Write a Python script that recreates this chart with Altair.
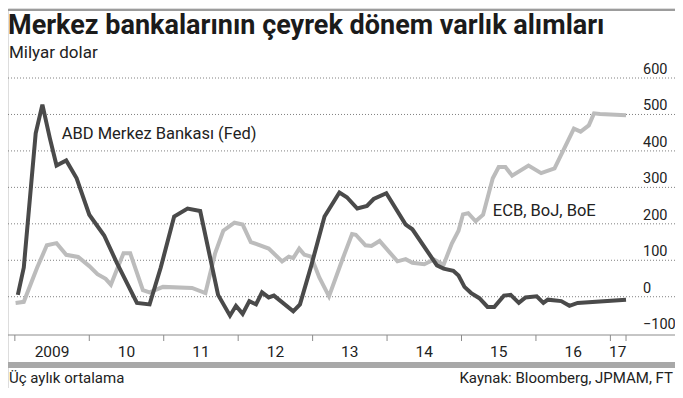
import altair as alt
import pandas as pd

# ---------------- data ----------------
fed_years = [2009.04, 2009.12, 2009.28, 2009.37, 2009.47, 2009.56, 2009.69, 2009.83,
             2010.00, 2010.20, 2010.37, 2010.64, 2010.81, 2010.96, 2011.14, 2011.32,
             2011.49, 2011.73, 2011.89, 2011.97, 2012.06, 2012.15, 2012.24, 2012.32,
             2012.41, 2012.48, 2012.74, 2012.83, 2012.98, 2013.16, 2013.36, 2013.46,
             2013.60, 2013.73, 2013.82, 2013.99, 2014.25, 2014.34, 2014.67, 2014.76,
             2014.89, 2014.96, 2015.04, 2015.13, 2015.24, 2015.35, 2015.44, 2015.57,
             2015.66, 2015.77, 2015.86, 2016.01, 2016.10, 2016.16, 2016.34, 2016.45,
             2016.56, 2017.21]
fed_values = [5, 80, 448, 527, 435, 360, 374, 325,
              225, 168, 93, -17, -21, 80, 220, 242,
              235, 5, -52, -25, -47, -12, -21, 12,
              -2, 3, -40, -21, 84, 220, 286, 273,
              242, 249, 268, 284, 198, 185, 86, 77,
              71, 58, 27, 10, -4, -28, -28, 3,
              5, -17, -2, 1, -17, -8, -12, -25,
              -17, -8]

ecb_years = [2009.01, 2009.12, 2009.30, 2009.43, 2009.56, 2009.69, 2009.85, 2010.00,
             2010.11, 2010.22, 2010.29, 2010.39, 2010.46, 2010.55, 2010.72, 2010.81,
             2010.99, 2011.38, 2011.56, 2011.69, 2011.80, 2011.95, 2012.06, 2012.17,
             2012.41, 2012.59, 2012.68, 2012.74, 2012.82, 2012.89, 2012.98, 2013.09,
             2013.22, 2013.40, 2013.53, 2013.58, 2013.71, 2013.79, 2013.90, 2014.14,
             2014.25, 2014.34, 2014.50, 2014.63, 2014.76, 2014.87, 2014.96, 2015.02,
             2015.09, 2015.19, 2015.29, 2015.42, 2015.50, 2015.59, 2015.68, 2015.90,
             2016.07, 2016.25, 2016.51, 2016.60, 2016.71, 2016.78, 2016.86, 2017.21]
ecb_values = [-17, -14, 80, 141, 147, 115, 109, 84,
              62, 49, 33, 84, 119, 119, 18, 12,
              27, 24, 10, 119, 181, 203, 198, 150,
              132, 97, 110, 106, 132, 115, 110, 53,
              1, 102, 172, 170, 141, 139, 153, 97,
              103, 93, 89, 102, 88, 146, 181, 226,
              229, 207, 225, 325, 356, 356, 332, 360,
              339, 352, 461, 453, 470, 503, 501, 498]

series_names = ["ABD Merkez Bankası (Fed)", "ECB, BoJ, BoE"]
label_pos = [[2009.63, 432], [2015.42, 221]]

year_ticks = [2009, 2010, 2011, 2012, 2013, 2014, 2015, 2016, 2017, 2017.21]
year_label_pos = [2009.5, 2010.5, 2011.5, 2012.5, 2013.5, 2014.5, 2015.5, 2016.5, 2017.1]
year_labels = ["2009", "10", "11", "12", "13", "14", "15", "16", "17"]
y_ticks = [-100, 0, 100, 200, 300, 400, 500, 600]
y_grid = [0, 100, 200, 300, 400, 500, 600]

title_text = "Merkez bankalarının çeyrek dönem varlık alımları"
subtitle_text = "Milyar dolar"
note_text = "Üç aylık ortalama"
source_text = "Kaynak: Bloomberg, JPMAM, FT"

# ---------------- layout (whole canvas is the view) ----------------
W, HT = 667, 380          # full svg size
PT, PB = 70, 327          # plot top / bottom in pixels
Y_DOMAIN = [-105, 600]
FONT = "Roboto"
TXT = "#222222"
X_DOMAIN = [2008.908, 2017.868]


def px_to_y(px):
    """Value on the y scale that lands on pixel row px (for decorations only)."""
    return Y_DOMAIN[0] + (PB - px) / (PB - PT) * (Y_DOMAIN[1] - Y_DOMAIN[0])


x_scale = alt.Scale(domain=X_DOMAIN, nice=False, zero=False)
y_scale = alt.Scale(domain=Y_DOMAIN, range=[PB, PT], nice=False, zero=False)
X = lambda f: alt.X(f, scale=x_scale, axis=None)
Y = lambda f: alt.Y(f, scale=y_scale, axis=None)

ecb_df = pd.DataFrame({"t": ecb_years, "v": ecb_values})
fed_df = pd.DataFrame({"t": fed_years, "v": fed_values})
one = pd.DataFrame({"k": [0]})
band_df = pd.DataFrame({"t": X_DOMAIN, "v": [px_to_y(PB + 30)] * 2})
top_df = pd.DataFrame({"t": X_DOMAIN, "v": [px_to_y(2)] * 2})

grid = alt.Chart(pd.DataFrame({"v": y_grid})).mark_rule(
    color="#808080", strokeWidth=1, strokeDash=[1, 2]).encode(
    y=Y("v:Q"), x=alt.value(0), x2=alt.value(W))

y_labels = alt.Chart(pd.DataFrame({"v": y_ticks})).mark_text(
    align="left", baseline="bottom", dy=-1, font=FONT, fontSize=14.5, color=TXT).encode(
    y=Y("v:Q"), x=alt.value(635), text=alt.Text("v:Q"))

ecb_line = alt.Chart(ecb_df).mark_line(color="#bcbcbc", strokeWidth=4).encode(
    x=X("t:Q"), y=Y("v:Q"), order="t:Q")
fed_line = alt.Chart(fed_df).mark_line(color="#4a4a4a", strokeWidth=4).encode(
    x=X("t:Q"), y=Y("v:Q"), order="t:Q")

ann_df = pd.DataFrame({"t": [p[0] for p in label_pos], "v": [p[1] for p in label_pos],
                       "txt": series_names})
annotations = alt.Chart(ann_df).mark_text(
    align="left", baseline="alphabetic", font=FONT, fontSize=16.5, color=TXT).encode(
    x=X("t:Q"), y=Y("v:Q"), text="txt:N")

x_domain = alt.Chart(one).mark_rule(color="#8c8c8c", strokeWidth=1).encode(
    x=alt.value(0), x2=alt.value(W), y=alt.value(PB))

ticks = alt.Chart(pd.DataFrame({"t": year_ticks})).mark_rule(
    color="#8c8c8c", strokeWidth=1).encode(
    x=X("t:Q"), y=alt.value(PB), y2=alt.value(PB + 6))

x_labels = alt.Chart(pd.DataFrame({"t": year_label_pos, "lab": year_labels})).mark_text(
    align="center", baseline="middle", font=FONT, fontSize=15.5, color=TXT).encode(
    x=X("t:Q"), y=alt.value(PB + 17), text="lab:N")

band = alt.Chart(band_df).mark_line(color="#a8a8a8", strokeWidth=6, strokeCap="butt").encode(
    x=X("t:Q"), y=Y("v:Q"), order="t:Q")
top_rule = alt.Chart(top_df).mark_line(color="#9c9c9c", strokeWidth=2, strokeCap="butt").encode(
    x=X("t:Q"), y=Y("v:Q"), order="t:Q")

title = alt.Chart(one).mark_text(
    align="left", baseline="alphabetic", font=FONT, fontSize=27, fontWeight="bold",
    color="#1b1b1b").encode(x=alt.value(0), y=alt.value(PT - 44), text=alt.value(title_text))
subtitle = alt.Chart(one).mark_text(
    align="left", baseline="alphabetic", font=FONT, fontSize=17, color=TXT).encode(
    x=alt.value(1), y=alt.value(PT - 20), text=alt.value(subtitle_text))
note = alt.Chart(one).mark_text(
    align="left", baseline="alphabetic", font=FONT, fontSize=15, color=TXT).encode(
    x=alt.value(1), y=alt.value(PB + 48), text=alt.value(note_text))
source = alt.Chart(one).mark_text(
    align="right", baseline="alphabetic", font=FONT, fontSize=15, color=TXT).encode(
    x=alt.value(W - 2), y=alt.value(PB + 48), text=alt.value(source_text))

chart = alt.layer(
    grid, y_labels, ecb_line, fed_line, annotations, x_domain, ticks, x_labels,
    band, top_rule, title, subtitle, note, source
).properties(
    width=W, height=HT,
    autosize=alt.AutoSizeParams(type="none"),
    padding=0,
).configure_view(strokeWidth=0).configure(background="white")

chart.save("out.html", embed_options={"renderer": "svg", "actions": False})
